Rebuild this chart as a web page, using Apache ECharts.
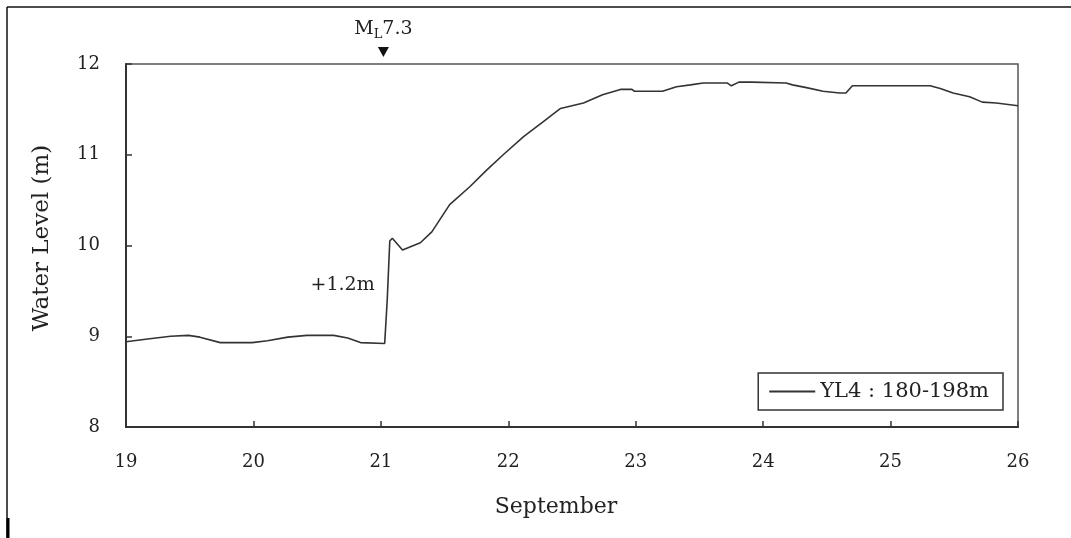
<!DOCTYPE html>
<html>
<head>
<meta charset="utf-8">
<script src="https://cdn.jsdelivr.net/npm/echarts@6/dist/echarts.min.js"></script>
<style>
html,body{margin:0;padding:0;background:#fff;}
#chart{width:1071px;height:538px;}
</style>
</head>
<body>
<div id="chart"></div>
<script>
// Time in days of September (decimal)
var timeDays = [19.00, 19.17, 19.35, 19.49, 19.58, 19.74, 19.99, 20.11, 20.27, 20.42, 20.63, 20.74, 20.84, 21.03,
  21.05, 21.07, 21.09, 21.17, 21.31, 21.40, 21.54, 21.70, 21.83, 21.96, 22.12, 22.27, 22.41, 22.59, 22.74,
  22.88, 22.97, 22.99, 23.21, 23.32, 23.43, 23.53, 23.72, 23.75, 23.81, 23.91, 24.18, 24.23, 24.34, 24.47,
  24.60, 24.65, 24.70, 25.31, 25.39, 25.49, 25.62, 25.72, 25.83, 26.00];
var waterLevel = [8.94, 8.97, 9.00, 9.01, 8.99, 8.93, 8.93, 8.95, 8.99, 9.01, 9.01, 8.98, 8.93, 8.92,
  9.40, 10.05, 10.08, 9.95, 10.03, 10.15, 10.45, 10.65, 10.83, 11.00, 11.20, 11.36, 11.51, 11.57, 11.66,
  11.72, 11.72, 11.70, 11.70, 11.75, 11.77, 11.79, 11.79, 11.76, 11.80, 11.80, 11.79, 11.77, 11.74, 11.70,
  11.68, 11.68, 11.76, 11.76, 11.73, 11.68, 11.64, 11.58, 11.57, 11.54];
var seriesName = 'YL4 : 180-198m';
var xTicks = [19, 20, 21, 22, 23, 24, 25, 26];
var yTicks = [8, 9, 10, 11, 12];
var quake = {day: 21.02, label: '7.3'};
var jumpNote = {day: 20.70, level: 9.56, text: '+1.2m'};

var data = timeDays.map(function (t, i) { return [t, waterLevel[i]]; });
var serif = '"DejaVu Serif", "Liberation Serif", serif';
var chart = echarts.init(document.getElementById('chart'));
chart.setOption({
  animation: false,
  backgroundColor: '#ffffff',
  textStyle: {fontFamily: serif},
  grid: {left: 126, right: 53, top: 64, bottom: 111, show: true, borderColor: '#555', borderWidth: 1.5, backgroundColor: 'transparent'},
  xAxis: {
    type: 'value', min: xTicks[0], max: xTicks[xTicks.length - 1], interval: 1,
    name: 'September', nameLocation: 'middle', nameGap: 69,
    nameTextStyle: {fontFamily: serif, fontSize: 22, color: '#222', padding: [0, 32, 0, 0]},
    axisLine: {lineStyle: {color: '#333', width: 2}},
    axisTick: {inside: true, length: 6, lineStyle: {color: '#333', width: 1.5}},
    axisLabel: {fontFamily: serif, fontSize: 18, color: '#222', margin: 26},
    splitLine: {show: false}
  },
  yAxis: {
    type: 'value', min: yTicks[0], max: yTicks[yTicks.length - 1], interval: 1,
    name: 'Water Level (m)', nameLocation: 'middle', nameGap: 72, nameRotate: 90,
    nameTextStyle: {fontFamily: serif, fontSize: 23, color: '#222', padding: [0, 0, 0, 15]},
    axisLine: {lineStyle: {color: '#333', width: 2}},
    axisTick: {inside: true, length: 6, lineStyle: {color: '#333', width: 1.5}},
    axisLabel: {fontFamily: serif, fontSize: 18, color: '#222', margin: 26},
    splitLine: {show: false}
  },
  legend: {
    right: 68, bottom: 128, orient: 'horizontal',
    data: [{name: seriesName, icon: 'path://M0,0 L1,0 L1,0.04 L0,0.04 Z'}],
    itemWidth: 46, itemHeight: 2, itemGap: 4,
    padding: [8, 14, 8, 11],
    borderColor: '#333', borderWidth: 1.5,
    textStyle: {fontFamily: serif, fontSize: 21, color: '#222'}
  },
  series: [{
    name: seriesName, type: 'line', data: data, showSymbol: false, smooth: false,
    lineStyle: {color: '#333', width: 1.6}, itemStyle: {color: '#333'},
    markPoint: {
      silent: true,
      data: [
        {coord: [quake.day, yTicks[yTicks.length - 1]], symbol: 'triangle', symbolRotate: 180, symbolSize: [11, 10], symbolOffset: [0, -12],
          itemStyle: {color: '#111'},
          label: {show: true, position: 'top', distance: 6,
            formatter: '{m|M}{s|L}{m|' + quake.label + '}',
            rich: {m: {fontFamily: serif, fontSize: 19, color: '#222'}, s: {fontFamily: serif, fontSize: 13, color: '#222', padding: [10, 0, 0, 0]}}}},
        {coord: [jumpNote.day, jumpNote.level], symbol: 'circle', symbolSize: 0,
          label: {show: true, position: 'inside', formatter: jumpNote.text, fontFamily: serif, fontSize: 19, color: '#222'}}
      ]
    }
  }],
  graphic: [
    {type: 'line', shape: {x1: 7, y1: 7, x2: 7, y2: 538}, style: {stroke: '#111', lineWidth: 1.5}},
    {type: 'line', shape: {x1: 7, y1: 7, x2: 1071, y2: 7}, style: {stroke: '#111', lineWidth: 1.5}},
    {type: 'line', shape: {x1: 8, y1: 518, x2: 8, y2: 538}, style: {stroke: '#000', lineWidth: 3}}
  ]
});
</script>
</body>
</html>
